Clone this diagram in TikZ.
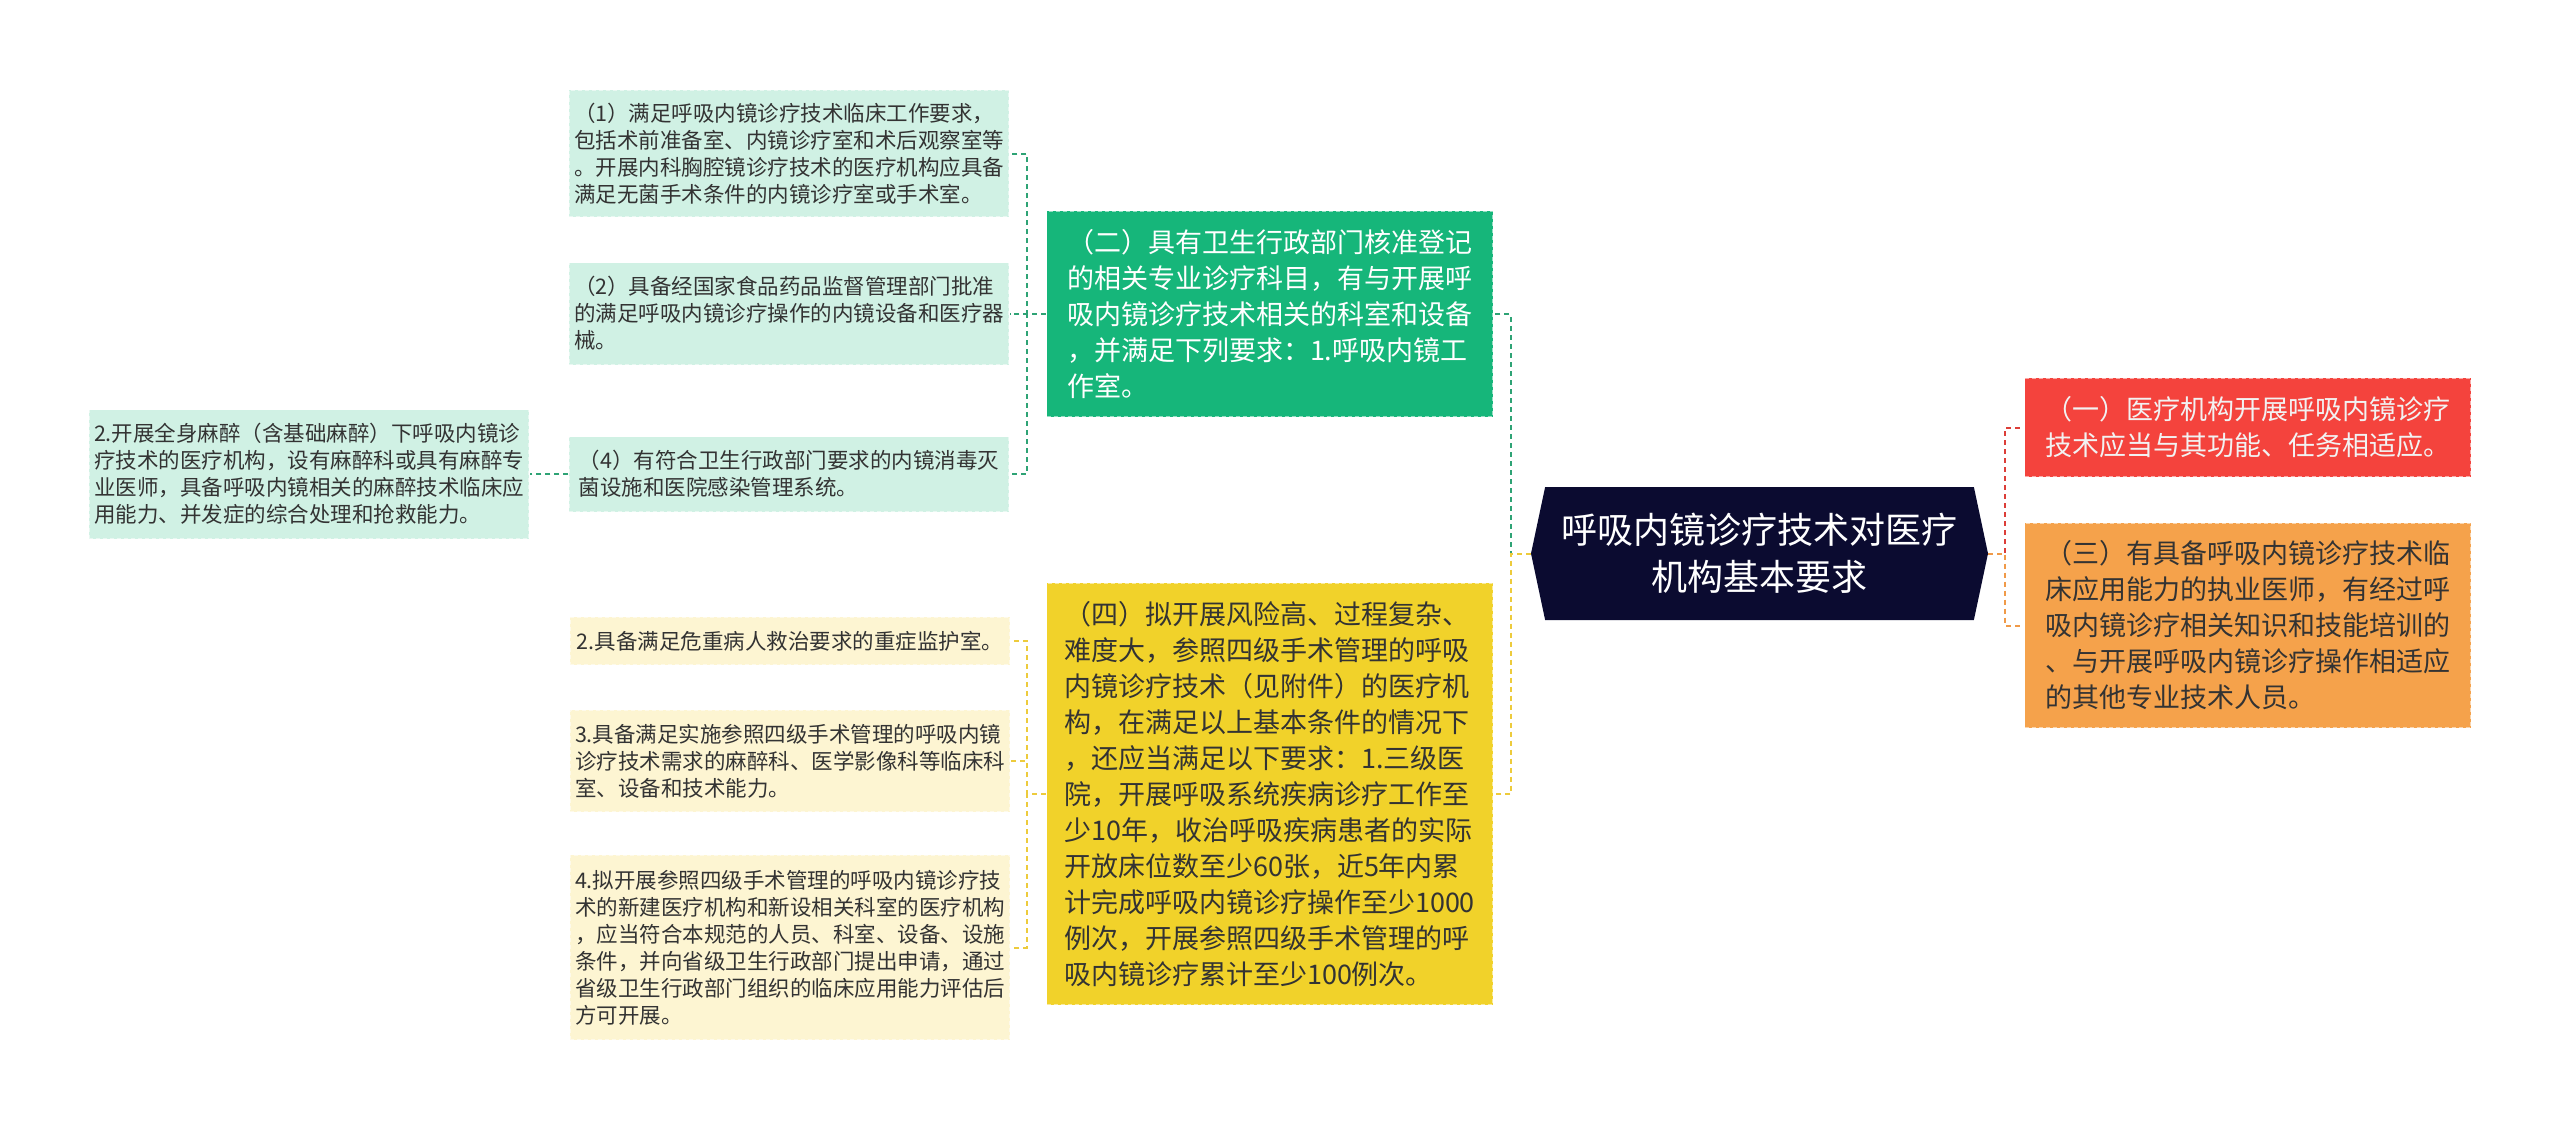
\documentclass[tikz,border=0pt]{standalone}
\usepackage{fontspec}
\setmainfont{Noto Sans CJK SC}
\usetikzlibrary{shapes.symbols}

%─────────────
% Colours
%─────────────
\definecolor{rootnavy}{HTML}{0B0B30}
\definecolor{maingreen}{HTML}{16B67A}
\definecolor{leafgreen}{HTML}{D0F1E4}
\definecolor{mainyellow}{HTML}{F1D22A}
\definecolor{leafyellow}{HTML}{FDF5D2}
\definecolor{mainred}{HTML}{F4433D}
\definecolor{mainorange}{HTML}{F5A24B}
\definecolor{linkgreen}{HTML}{2EA375}
\definecolor{linkyellow}{HTML}{EDCB3C}
\definecolor{linkred}{HTML}{DC3E38}
\definecolor{linkorange}{HTML}{F09A48}
\definecolor{textdark}{HTML}{333333}

% Font sizes (picture is drawn in pixel units, 1px = 1pt)
\newcommand{\leaffont}{\fontsize{21.5pt}{27pt}\selectfont}
\newcommand{\mainfont}{\fontsize{27pt}{36pt}\selectfont}
\newcommand{\rootfont}{\fontsize{36pt}{47pt}\selectfont}

\begin{document}
\begin{tikzpicture}[x=1pt, y=-1pt,
  box/.style={rectangle, draw=white, draw opacity=0.55, dash pattern=on 4pt off 3pt,
    line width=1.2pt, align=left, inner sep=0pt},
  leafg/.style={box, fill=leafgreen, text=textdark, font=\leaffont, minimum width=440pt},
  leafy/.style={box, fill=leafyellow, text=textdark, font=\leaffont, minimum width=440pt},
  branch/.style={box, font=\mainfont, minimum width=446pt},
  link/.style={dash pattern=on 5pt off 4pt, line width=2pt}]

\useasboundingbox[fill=white] (0,0) rectangle (2560,1128);

%─────────────
% Root
%─────────────
\node[signal, signal to=west and east, signal pointer angle=156, fill=rootnavy,
  text=white, font=\rootfont, align=center, inner sep=0pt,
  minimum width=457pt, minimum height=133pt] (root) at (1759.5,553.5)
  {呼吸内镜诊疗技术对医疗\\机构基本要求};

%─────────────
% Right branches
%─────────────
\node[branch, fill=mainred, text=white!95!black, minimum height=99pt] (red) at (2247.5,427.5)
  {（一）医疗机构开展呼吸内镜诊疗\\技术应当与其功能、任务相适应。};
\node[branch, fill=mainorange, text=textdark, minimum height=205pt] (orange) at (2247.5,625.5)
  {（三）有具备呼吸内镜诊疗技术临\\床应用能力的执业医师，有经过呼\\吸内镜诊疗相关知识和技能培训的\\、与开展呼吸内镜诊疗操作相适应\\的其他专业技术人员。};

%─────────────
% Left branches
%─────────────
\node[branch, fill=maingreen, text=white, minimum height=206pt] (gmain) at (1269.5,314)
  {（二）具有卫生行政部门核准登记\\的相关专业诊疗科目，有与开展呼\\吸内镜诊疗技术相关的科室和设备\\，并满足下列要求：1.呼吸内镜工\\作室。};
\node[branch, fill=mainyellow, text=textdark, minimum height=422pt] (ymain) at (1269.5,794)
  {（四）拟开展风险高、过程复杂、\\难度大，参照四级手术管理的呼吸\\内镜诊疗技术（见附件）的医疗机\\构，在满足以上基本条件的情况下\\，还应当满足以下要求：1.三级医\\院，开展呼吸系统疾病诊疗工作至\\少10年，收治呼吸疾病患者的实际\\开放床位数至少60张，近5年内累\\计完成呼吸内镜诊疗操作至少1000\\例次，开展参照四级手术管理的呼\\吸内镜诊疗累计至少100例次。};

% green leaves
\node[leafg, minimum height=127pt] (g1) at (789,153.5)
  {（1）满足呼吸内镜诊疗技术临床工作要求，\\包括术前准备室、内镜诊疗室和术后观察室等\\。开展内科胸腔镜诊疗技术的医疗机构应具备\\满足无菌手术条件的内镜诊疗室或手术室。};
\node[leafg, minimum height=102pt] (g2) at (789,313.5)
  {（2）具备经国家食品药品监督管理部门批准\\的满足呼吸内镜诊疗操作的内镜设备和医疗器\\械。};
\node[leafg, minimum height=75pt] (g4) at (789,474)
  {（4）有符合卫生行政部门要求的内镜消毒灭\\菌设施和医院感染管理系统。};
\node[leafg, minimum height=129pt] (anaes) at (309,474)
  {2.开展全身麻醉（含基础麻醉）下呼吸内镜诊\\疗技术的医疗机构，设有麻醉科或具有麻醉专\\业医师，具备呼吸内镜相关的麻醉技术临床应\\用能力、并发症的综合处理和抢救能力。};

% yellow leaves
\node[leafy, minimum height=48pt] (y2) at (790,641)
  {2.具备满足危重病人救治要求的重症监护室。};
\node[leafy, minimum height=102pt] (y3) at (790,761)
  {3.具备满足实施参照四级手术管理的呼吸内镜\\诊疗技术需求的麻醉科、医学影像科等临床科\\室、设备和技术能力。};
\node[leafy, minimum height=185pt] (y4) at (790,947.5)
  {4.拟开展参照四级手术管理的呼吸内镜诊疗技\\术的新建医疗机构和新设相关科室的医疗机构\\，应当符合本规范的人员、科室、设备、设施\\条件，并向省级卫生行政部门提出申请，通过\\省级卫生行政部门组织的临床应用能力评估后\\方可开展。};

%─────────────
% Connectors
%─────────────
\draw[link, linkgreen] (root.west) -- ++(-20,0) |- (gmain.east);
\draw[link, linkyellow] (root.west) -- ++(-20,0) |- (ymain.east);
\draw[link, linkred] (root.east) -- ++(17,0) |- (red.west);
\draw[link, linkorange] (root.east) -- ++(17,0) |- (orange.west);
\foreach \leaf in {g1,g2,g4}
  \draw[link, linkgreen] (gmain.west) -- ++(-19,0) |- (\leaf.east);
\foreach \leaf in {y2,y3,y4}
  \draw[link, linkyellow] (ymain.west) -- ++(-19,0) |- (\leaf.east);
\draw[link, linkgreen] (g4.west) -- (anaes.east);

\end{tikzpicture}
\end{document}
